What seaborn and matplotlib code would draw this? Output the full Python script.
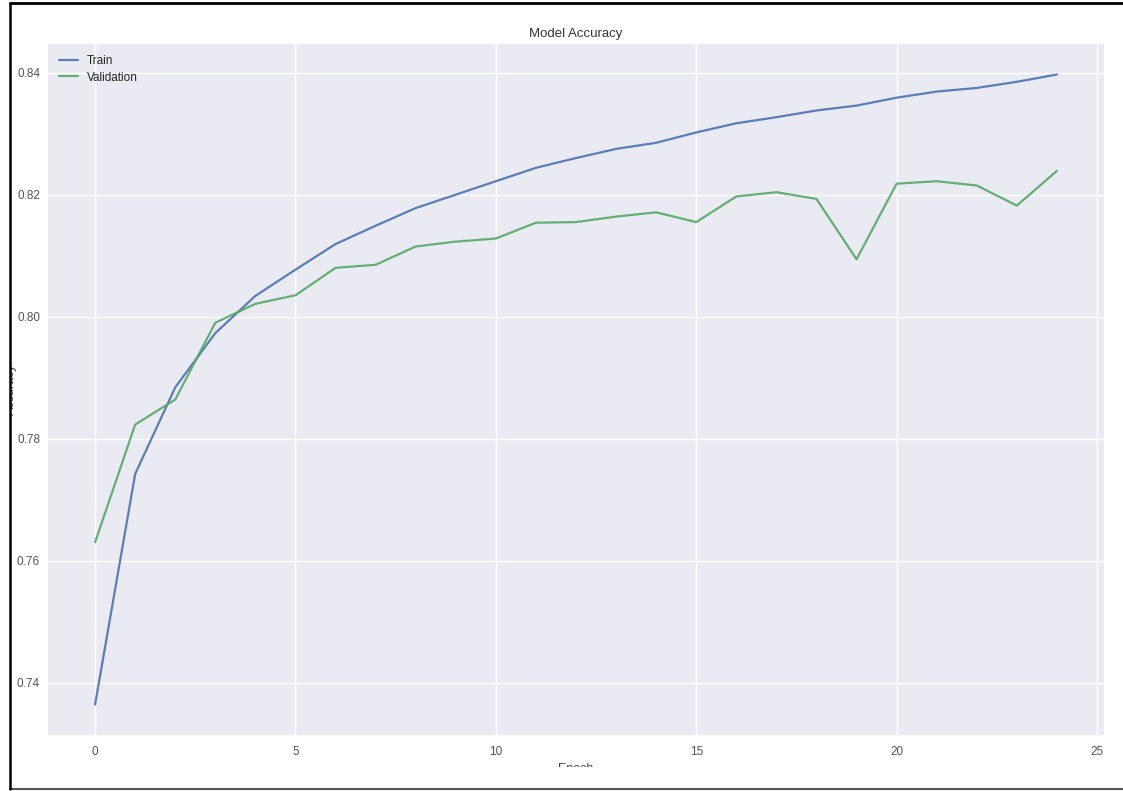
import matplotlib
matplotlib.use("Agg")
import matplotlib.pyplot as plt
import seaborn as sns
import pandas as pd
from matplotlib.patches import Rectangle
from matplotlib.lines import Line2D

epochs = list(range(25))
train_acc = [0.7364, 0.7742, 0.7884, 0.7973, 0.8034, 0.8077, 0.8119, 0.8149, 0.8178,
             0.8200, 0.8222, 0.8244, 0.8260, 0.8275, 0.8285, 0.8302, 0.8317, 0.8327,
             0.8338, 0.8346, 0.8359, 0.8369, 0.8375, 0.8385, 0.8397]
val_acc = [0.7630, 0.7823, 0.7864, 0.7990, 0.8021, 0.8035, 0.8080, 0.8085, 0.8115,
           0.8123, 0.8128, 0.8154, 0.8155, 0.8164, 0.8171, 0.8155, 0.8197, 0.8204,
           0.8193, 0.8094, 0.8218, 0.8222, 0.8215, 0.8182, 0.8239]
series_names = ["Train", "Validation"]
x_ticks = [0, 5, 10, 15, 20, 25]
y_ticks = [0.74, 0.76, 0.78, 0.80, 0.82, 0.84]

df = pd.DataFrame({
    "Epoch": epochs * 2,
    "Accuracy": train_acc + val_acc,
    "Series": [series_names[0]] * len(epochs) + [series_names[1]] * len(epochs),
})

sns.set_theme(style="darkgrid", palette="deep")
plt.rcParams["font.family"] = ["Liberation Sans", "DejaVu Sans"]

W, H = 1123, 791
fig = plt.figure(figsize=(W / 100, H / 100), dpi=100)
ax = fig.add_axes([47 / W, 1 - 736 / H, (1105 - 47) / W, (736 - 43) / H])

pal = sns.color_palette("deep")
sns.lineplot(data=df, x="Epoch", y="Accuracy", hue="Series", ax=ax,
             palette=[pal[0], pal[2]], linewidth=1.6, alpha=0.9)

ax.grid(True, color="white", linewidth=1.0)
ax.set_xticks(x_ticks)
ax.set_yticks(y_ticks)
ax.set_yticklabels([f"{v:.2f}" for v in y_ticks])
ax.tick_params(axis="both", labelsize=8.5, colors="#555555", length=0)
ax.tick_params(axis="x", pad=7)
ax.tick_params(axis="y", pad=5)
ax.set_title("Model Accuracy", fontsize=9.5, color="#333333", pad=4)
ax.set_xlabel("Epoch", fontsize=9, color="#444444")
ax.set_ylabel("Accuracy", fontsize=9, color="#444444")
ax.xaxis.set_label_coords(0.5, -0.039)
ax.yaxis.set_label_coords(-0.0284, 0.5)

leg = ax.legend(loc="upper left", fontsize=8.5, frameon=False, handlelength=1.6,
                labelspacing=0.4, borderaxespad=0.6)
leg.set_title(None)

# screenshot cropping and border
fig.patches.append(Rectangle((0, 0), 1, (H - 767) / H, transform=fig.transFigure,
                             facecolor="white", edgecolor="none", zorder=10))
fig.patches.append(Rectangle((0, 0), 10 / W, 1, transform=fig.transFigure,
                             facecolor="white", edgecolor="none", zorder=10))
fig.lines.append(Line2D([9.5 / W, 1], [1 - 3 / H, 1 - 3 / H], transform=fig.transFigure,
                        color="black", linewidth=2, zorder=11))
fig.lines.append(Line2D([9.5 / W, 1], [1 - 789 / H, 1 - 789 / H], transform=fig.transFigure,
                        color="#555555", linewidth=1.5, zorder=11))
fig.lines.append(Line2D([9.5 / W, 9.5 / W], [1 - 789 / H, 1 - 3 / H], transform=fig.transFigure,
                        color="black", linewidth=1.8, zorder=11))

fig.savefig("out.png", dpi=100)
